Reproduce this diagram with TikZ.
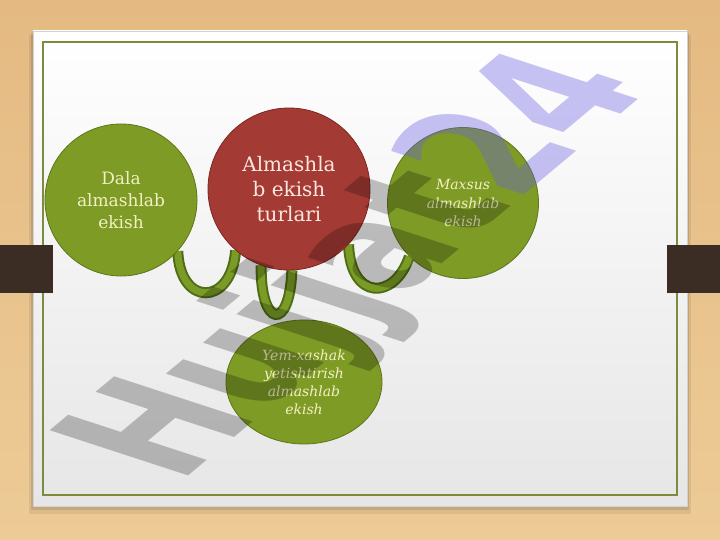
\documentclass[tikz,border=0pt]{standalone}
\usepackage{fontspec}
\setmainfont{DejaVu Serif}
\newfontfamily\wmfont{DejaVu Sans}
\usetikzlibrary{shapes.geometric}
\definecolor{woodA}{HTML}{E4BA82}
\definecolor{woodB}{HTML}{EDCB96}
\definecolor{slidebot}{HTML}{E6E6E6}
\definecolor{innerborder}{HTML}{7D8B3F}
\definecolor{tabcol}{HTML}{3B2C24}
\definecolor{ballgreen}{HTML}{7E9B25}
\definecolor{balledge}{HTML}{5C7618}
\definecolor{ballred}{HTML}{A43A34}
\definecolor{rededge}{HTML}{7E2622}
\definecolor{txtgreen}{HTML}{F2F0C4}
\definecolor{txtred}{HTML}{FBE7DF}
\definecolor{ribdark}{HTML}{4F6D16}
\definecolor{riblight}{HTML}{7A9C26}
\definecolor{wmgray}{HTML}{C3C3C3}
\definecolor{wmlav}{HTML}{6C5FE4}
\pgfdeclarelayer{bg}
\pgfsetlayers{bg,main}
\tikzset{
  greenball/.style={circle, fill=ballgreen, draw=balledge, line width=0.8pt, inner sep=0pt, text=txtgreen, align=center},
  redball/.style={circle, fill=ballred, draw=rededge, line width=0.8pt, inner sep=0pt, text=txtred, align=center},
  ribbonback/.style={draw=ribdark, line width=11pt},
  ribbonfront/.style={draw=riblight, line width=7pt},
  wmtext/.style={cm={4.94,4.13,-9.5,3.1,(0,0)}, transform shape, anchor=base west, inner sep=0pt, font=\wmfont\bfseries\fontsize{20}{24}\selectfont},
}
\begin{document}
\begin{tikzpicture}[x=1pt,y=-1pt]
\useasboundingbox (0,0) rectangle (720,540);
\begin{pgfonlayer}{bg}
\shade[top color=woodA, bottom color=woodB] (0,0) rectangle (720,540);
\fill[black, opacity=0.07] (29,35) rectangle (691,514);
\fill[black, opacity=0.1] (31,33) rectangle (689,510);
\shade[top color=white, bottom color=slidebot, draw=gray!35] (33,31) rectangle (687,506);
\draw[innerborder, line width=1.4pt] (43,42) rectangle (677,495);
\fill[tabcol] (0,245) rectangle (53,293);
\fill[tabcol] (667,245) rectangle (720,293);
\end{pgfonlayer}

\node[greenball, minimum size=152pt, font=\fontsize{17}{22}\selectfont] (dala) at (121,200) {Dala\\almashlab\\ekish};
\node[redball, minimum size=162pt, font=\fontsize{20}{25}\selectfont] (red) at (289,189) {Almashla\\b ekish\\turlari};
\node[greenball, minimum size=151pt, font=\fontsize{14}{18.5}\selectfont\itshape] (maxsus) at (463,203) {Maxsus\\almashlab\\ekish};
\node[greenball, ellipse, minimum width=156pt, minimum height=124pt, font=\fontsize{14}{18}\selectfont\itshape] (yem) at (304,382) {Yem-xashak\\yetishtirish\\almashlab\\ekish};

\begin{pgfonlayer}{bg}
\foreach \st in {ribbonback, ribbonfront}{
  \draw[\st] (dala.-42) .. controls +(2,56) and +(-4,56) .. (red.-131);
  \draw[\st] (red.-110) .. controls +(-1,62) and +(-2,62) .. (red.-88);
  \draw[\st] (red.-43) .. controls +(2,56) and +(-15,44) .. (maxsus.-135);
}
\end{pgfonlayer}

\begin{scope}[blend mode=multiply]
\node[wmtext, text=wmgray] (wm) at (178.6,484) {Hujjat};
\end{scope}
\node[wmtext, text=wmlav, text opacity=0.375] (wmnum) at (wm.base east) {24};
\end{tikzpicture}
\end{document}
